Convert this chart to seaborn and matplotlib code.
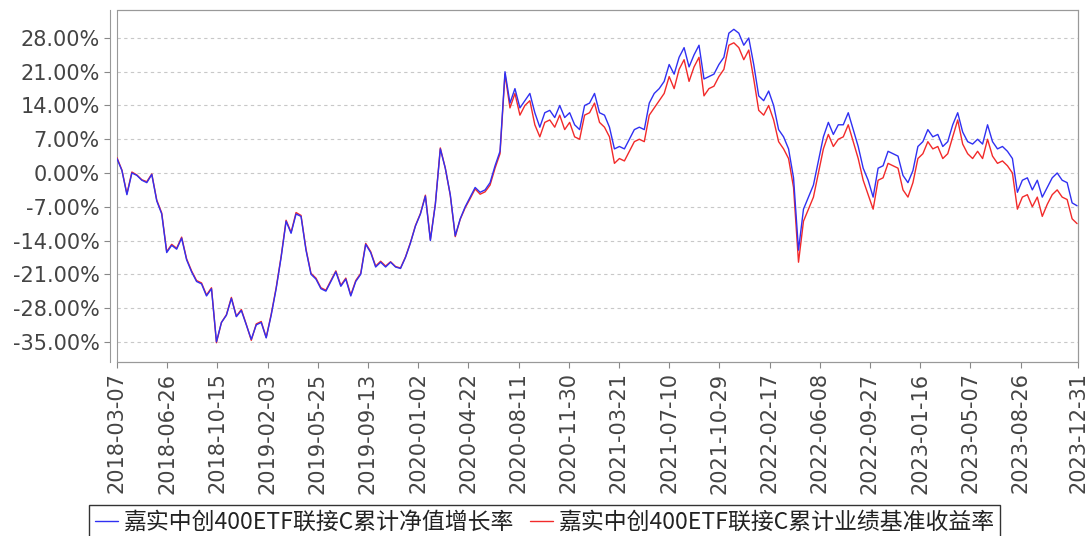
import pandas as pd
import seaborn as sns
import matplotlib.pyplot as plt
from matplotlib.lines import Line2D
from matplotlib.patches import Rectangle
from matplotlib.ticker import FuncFormatter

# values, one point every 11 days
start_date = '2018-03-07'
step = '11D'

fund = [
    3.0, 0.5, -4.5, 0.0, -0.5, -1.5, -2.0, -0.3, -5.8, -8.5,
    -16.5, -15.0, -15.8, -13.5, -18.0, -20.5, -22.5, -23.0, -25.5, -24.0,
    -35.0, -31.0, -29.5, -26.0, -29.8, -28.5, -31.5, -34.5, -31.5, -31.0,
    -34.2, -29.5, -24.0, -17.5, -10.0, -12.5, -8.5, -9.0, -16.0, -21.0,
    -22.0, -24.0, -24.5, -22.5, -20.5, -23.5, -22.0, -25.5, -22.5, -21.0,
    -14.8, -16.5, -19.5, -18.5, -19.5, -18.5, -19.5, -19.8, -17.5, -14.5,
    -11.0, -8.5, -4.8, -14.0, -6.5, 5.0, 1.0, -4.5, -13.0, -9.5,
    -7.0, -5.0, -3.0, -4.0, -3.5, -2.0, 1.5, 4.5, 21.0, 14.5,
    17.5, 13.5, 15.0, 16.5, 12.5, 9.5, 12.5, 13.0, 11.5, 14.0,
    11.5, 12.5, 10.0, 9.0, 14.0, 14.5, 16.5, 12.5, 12.0, 9.5,
    5.0, 5.5, 5.0, 7.0, 9.0, 9.5, 9.0, 14.5, 16.5, 17.5,
    19.0, 22.5, 20.5, 24.0, 26.0, 22.0, 24.5, 26.5, 19.5, 20.0,
    20.5, 22.5, 24.0, 29.0, 29.8, 29.0, 26.5, 28.0, 22.5, 16.0,
    15.0, 17.0, 14.0, 9.0, 7.5, 5.0, -1.0, -16.0, -7.5, -5.0,
    -2.5, 2.5, 7.5, 10.5, 8.0, 10.0, 10.0, 12.5, 9.0, 5.5,
    1.0, -1.5, -5.0, 1.0, 1.5, 4.5, 4.0, 3.5, -0.5, -2.0,
    0.5, 5.5, 6.5, 9.0, 7.5, 8.0, 5.5, 6.5, 10.0, 12.5,
    8.5, 6.5, 6.0, 7.0, 6.0, 10.0, 6.5, 5.0, 5.5, 4.5,
    3.0, -4.0, -1.5, -1.0, -3.5, -1.5, -5.0, -3.0, -1.0, 0.0,
    -1.5, -2.0, -6.2, -6.8,
]

bench = [
    3.2, 0.6, -4.3, 0.2, -0.4, -1.4, -1.8, -0.2, -5.6, -8.3,
    -16.3, -14.8, -15.6, -13.3, -17.8, -20.3, -22.3, -22.8, -25.3, -23.8,
    -35.2, -31.0, -29.4, -25.8, -29.7, -28.3, -31.4, -34.7, -31.3, -30.8,
    -34.1, -29.3, -23.8, -17.3, -9.8, -12.3, -8.2, -8.8, -15.8, -20.8,
    -21.8, -23.8, -24.3, -22.3, -20.3, -23.3, -21.8, -25.3, -22.3, -20.8,
    -14.6, -16.3, -19.3, -18.3, -19.3, -18.4, -19.4, -19.7, -17.4, -14.4,
    -10.9, -8.4, -4.6, -13.8, -6.4, 5.2, 1.0, -4.6, -13.2, -9.6,
    -7.2, -5.3, -3.3, -4.4, -3.9, -2.5, 1.0, 4.0, 20.5, 13.5,
    16.5, 12.0, 14.0, 15.0, 10.0, 7.5, 10.5, 11.0, 9.5, 12.0,
    9.0, 10.5, 7.5, 7.0, 12.0, 12.5, 14.5, 10.5, 9.5, 7.5,
    2.0, 3.0, 2.5, 4.5, 6.5, 7.0, 6.5, 12.0, 13.5, 15.0,
    16.5, 20.0, 17.5, 21.5, 23.5, 19.0, 22.0, 24.0, 16.0, 17.5,
    18.0, 20.0, 21.5, 26.5, 27.0, 26.0, 23.5, 25.5, 19.5, 13.0,
    12.0, 14.0, 11.0, 6.5, 5.0, 3.0, -3.0, -18.5, -10.0, -7.5,
    -5.0, 0.0, 5.0, 8.0, 5.5, 7.0, 7.5, 10.0, 6.5, 3.0,
    -1.5, -4.5, -7.5, -1.5, -1.0, 2.0, 1.5, 1.0, -3.5, -5.0,
    -2.0, 3.0, 4.0, 6.5, 5.0, 5.5, 3.0, 4.0, 7.5, 11.0,
    6.0, 4.0, 3.0, 4.5, 3.0, 7.0, 3.5, 2.0, 2.5, 1.5,
    0.0, -7.5, -5.0, -4.5, -7.0, -5.0, -9.0, -6.5, -4.5, -3.5,
    -5.0, -5.5, -9.5, -10.5,
]

x_ticks = ['2018-03-07', '2018-06-26', '2018-10-15', '2019-02-03', '2019-05-25',
           '2019-09-13', '2020-01-02', '2020-04-22', '2020-08-11', '2020-11-30',
           '2021-03-21', '2021-07-10', '2021-10-29', '2022-02-17', '2022-06-08',
           '2022-09-27', '2023-01-16', '2023-05-07', '2023-08-26', '2023-12-31']
y_ticks = [-35, -28, -21, -14, -7, 0, 7, 14, 21, 28]

labels = ['嘉实中创400ETF联接C累计净值增长率', '嘉实中创400ETF联接C累计业绩基准收益率']

dates = pd.date_range(start_date, periods=len(fund), freq=step)
df = pd.DataFrame({'date': dates, 'fund': fund, 'bench': bench})

blue = '#3030F2'
red = '#F22A2A'

sns.set_theme(style='white')
plt.rcParams['font.family'] = ['DejaVu Sans', 'Noto Sans CJK SC']

fig = plt.figure(figsize=(10.89, 5.36), dpi=100)
ax = fig.add_axes([0.1074, 0.3246, 0.8825, 0.6567])

sns.lineplot(data=df, x='date', y='bench', color=red, lw=1.0, ax=ax)
sns.lineplot(data=df, x='date', y='fund', color=blue, lw=1.0, ax=ax)

ax.set_xlim(pd.Timestamp(x_ticks[0]), pd.Timestamp(x_ticks[-1]))
ax.set_ylim(-39.2, 33.8)
ax.set_xlabel('')
ax.set_ylabel('')

ax.set_yticks(y_ticks)
ax.yaxis.set_major_formatter(FuncFormatter(lambda v, _: f'{v:.2f}%'))
ax.set_xticks(pd.to_datetime(x_ticks))
ax.set_xticklabels(x_ticks, rotation=90)
ax.tick_params(axis='both', labelsize=15, labelcolor='#444444', color='#888888',
               length=4, width=0.8, direction='out', left=True, bottom=True)

ax.grid(axis='y', color='#C8C8C8', linestyle=(0, (3, 3)), linewidth=0.8)
ax.grid(axis='x', visible=False)

for side in ['top', 'right', 'bottom']:
    ax.spines[side].set_color('#999999')
    ax.spines[side].set_linewidth(0.8)
ax.spines['left'].set_color('#999999')
ax.spines['left'].set_linewidth(0.8)
ax.spines['left'].set_position(('outward', 5))
ax.add_patch(Rectangle((0, 0), 1, 1, transform=ax.transAxes, fill=False,
                       edgecolor='#999999', lw=0.8, clip_on=False))

handles = [Line2D([], [], color=blue, lw=1.0), Line2D([], [], color=red, lw=1.0)]
leg = fig.legend(handles, labels, loc='upper center', bbox_to_anchor=(0.5, 0.058),
                 ncol=2, frameon=True, fancybox=False, edgecolor='black',
                 prop={'family': 'Noto Sans CJK SC', 'size': 16.5},
                 handlelength=1.0, handletextpad=0.25, columnspacing=0.7,
                 borderpad=0.25, borderaxespad=0)
leg.get_frame().set_linewidth(1.0)
for t in leg.get_texts():
    t.set_color('#222222')

plt.savefig('out.png', dpi=100)
